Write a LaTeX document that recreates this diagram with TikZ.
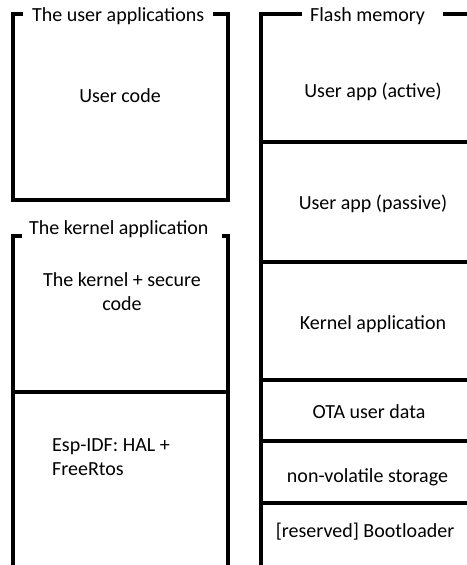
\documentclass[tikz,border=0pt]{standalone}
\usepackage{fontspec}
\setmainfont{Carlito}
\begin{document}
\begin{tikzpicture}[x=1pt,y=-1pt,
  frame/.style={line width=3.1pt,line cap=butt,line join=miter},
  lbl/.style={font=\fontsize{20}{24}\selectfont,inner sep=0pt,anchor=base},
  title/.style={lbl,fill=white}]
\useasboundingbox (0,0) rectangle (466,565);
% user applications box
\draw[frame] (23,14) -- (13,14) -- (13,200) -- (228,200) -- (228,14) -- (213,14);
\node[lbl,anchor=base west] (tu) at (32,21) {The user applications};
\node[lbl] (uc) at (120,102) {User code};
% kernel application box
\draw[frame] (22,236) -- (13,236) -- (13,565);
\draw[frame] (222,236) -- (228,236) -- (228,565);
\draw[frame] (13,392) -- (228,392);
\node[lbl,anchor=base west] (tk) at (29,234) {The kernel application};
\node[lbl,align=center] (ks) at (122,310) {The kernel + secure\\code};
\node[lbl,anchor=base west,align=left] (esp) at (52,475) {Esp-IDF: HAL +\\FreeRtos};
% flash memory
\draw[frame] (302,14) -- (261,14) -- (261,565);
\draw[frame] (443,14) -- (470,14);
\foreach \yy in {142,262,380,441,503} \draw[frame] (261,\yy) -- (470,\yy);
\node[lbl,anchor=base west] (tf) at (310,21) {Flash memory};
\node[lbl] (ua) at (373,97) {User app (active)};
\node[lbl] (up) at (373,209) {User app (passive)};
\node[lbl] (ka) at (373,329) {Kernel application};
\node[lbl] (ota) at (369,418) {OTA user data};
\node[lbl] (nvs) at (367.5,482) {non-volatile storage};
\node[lbl] (bl) at (365,537) {[reserved] Bootloader};
\end{tikzpicture}
\end{document}
